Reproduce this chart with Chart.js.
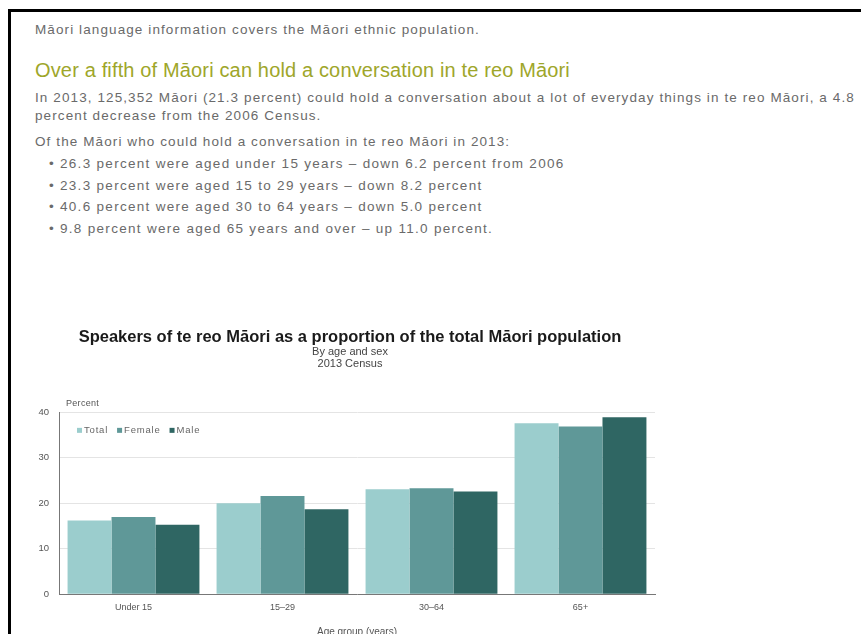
<!DOCTYPE html>
<html>
<head>
<meta charset="utf-8">
<script src="https://cdn.jsdelivr.net/npm/chart.js@4.4.0/dist/chart.umd.min.js"></script>
<style>
  html, body { margin: 0; padding: 0; background: #fff; overflow: hidden; }
  body { width: 861px; height: 634px; position: relative; font-family: "Liberation Sans", Arial, sans-serif; color: #6a6a6a; }
  .frame { position: absolute; left: 8px; top: 9px; width: 900px; height: 700px; border-left: 3px solid #000; border-top: 3px solid #000; }
  .t { position: absolute; left: 35px; white-space: nowrap; font-size: 13.5px; line-height: 16px; letter-spacing: 1.1px; }
  .h { position: absolute; left: 35px; white-space: nowrap; font-size: 20px; color: #9ea62a; line-height: 22px; letter-spacing: 0.15px; }
  .b { position: absolute; left: 49px; white-space: nowrap; font-size: 13.5px; line-height: 16px; letter-spacing: 1.3px; }
  .b::before { content: "\2022"; position: absolute; left: 0; }
  .b span { margin-left: 11px; }
  #wrap { position: absolute; left: 20px; top: 322px; width: 680px; height: 320px; }
  .pct { position: absolute; left: 66px; top: 398px; font-size: 9px; color: #555; letter-spacing: 0.3px; }
</style>
</head>
<body>
<div class="frame"></div>
<div class="t" style="top:22px">Māori language information covers the Māori ethnic population.</div>
<div class="h" style="top:59px">Over a fifth of Māori can hold a conversation in te reo Māori</div>
<div class="t" style="top:90px">In 2013, 125,352 Māori (21.3 percent) could hold a conversation about a lot of everyday things in te reo Māori, a 4.8</div>
<div class="t" style="top:108px">percent decrease from the 2006 Census.</div>
<div class="t" style="top:134px">Of the Māori who could hold a conversation in te reo Māori in 2013:</div>
<div class="b" style="top:156px"><span>26.3 percent were aged under 15 years – down 6.2 percent from 2006</span></div>
<div class="b" style="top:178px"><span>23.3 percent were aged 15 to 29 years – down 8.2 percent</span></div>
<div class="b" style="top:199px"><span>40.6 percent were aged 30 to 64 years – down 5.0 percent</span></div>
<div class="b" style="top:221px"><span>9.8 percent were aged 65 years and over – up 11.0 percent.</span></div>

<div id="wrap"><canvas id="myChart"></canvas></div>
<div class="pct">Percent</div>

<script>
let ageGroups = ['Under 15', '15–29', '30–64', '65+'];
let totalValues = [16.2, 20.0, 23.1, 37.6];
let femaleValues = [17.0, 21.6, 23.3, 36.9];
let maleValues = [15.3, 18.7, 22.6, 38.9];
let yTicks = [0, 10, 20, 30, 40];
let colorHex = ['#9bcdcd', '#5f9898', '#2f6663'];

// small legend drawn inside the plot, top left
let insideLegend = {
  id: 'insideLegend',
  afterDraw(chart) {
    let c = chart.ctx;
    let area = chart.chartArea;
    let x = area.left + 18;
    let y = area.top + 18;
    c.save();
    c.font = '9.5px "Liberation Sans"';
    c.letterSpacing = '0.8px';
    c.textBaseline = 'middle';
    chart.data.datasets.forEach(function (ds) {
      c.fillStyle = ds.backgroundColor;
      c.fillRect(x, y - 2.5, 5, 5);
      c.fillStyle = '#666';
      c.fillText(ds.label, x + 7, y);
      x += 7 + c.measureText(ds.label).width + 9;
    });
    c.restore();
  }
};

let ctx = document.getElementById('myChart').getContext('2d');

let myChart = new Chart(ctx, {
  type: 'bar',
  data: {
    labels: ageGroups,
    datasets: [
      { label: 'Total', data: totalValues, backgroundColor: colorHex[0] },
      { label: 'Female', data: femaleValues, backgroundColor: colorHex[1] },
      { label: 'Male', data: maleValues, backgroundColor: colorHex[2] }
    ]
  },
  options: {
    responsive: true,
    maintainAspectRatio: false,
    animation: false,
    layout: { padding: { left: 5, right: 25, bottom: 0 } },
    datasets: {
      bar: { categoryPercentage: 0.885, barPercentage: 1.0 }
    },
    scales: {
      x: {
        grid: { display: false, drawTicks: false },
        border: { display: true, color: '#777' },
        ticks: { color: '#555', font: { family: 'Liberation Sans', size: 9 }, padding: 8 },
        title: {
          display: true,
          text: 'Age group (years)',
          color: '#555',
          font: { family: 'Liberation Sans', size: 10 },
          padding: { top: 5, bottom: 4 }
        }
      },
      y: {
        min: 0,
        max: 40,
        afterFit: (scale) => { scale.width = 34; },
        afterBuildTicks: (scale) => { scale.ticks = yTicks.map(v => ({ value: v })); },
        grid: { color: '#e4e4e4', drawTicks: false },
        border: { display: true, color: '#777' },
        ticks: { color: '#555', font: { family: 'Liberation Sans', size: 9.5 }, padding: 10 }
      },
      // empty spacer on the right so the title sits where the original has it
      spacer: {
        position: 'right',
        min: 0,
        max: 40,
        afterFit: (scale) => { scale.width = 20; },
        grid: { display: false },
        border: { display: false },
        ticks: { display: false }
      }
    },
    plugins: {
      title: {
        display: true,
        text: 'Speakers of te reo Māori as a proportion of the total Māori population',
        color: '#1a1a1a',
        font: { family: 'Liberation Sans', size: 16.5, weight: 'bold', lineHeight: 1.1 },
        padding: { top: 6, bottom: 0 }
      },
      subtitle: {
        display: true,
        text: ['By age and sex', '2013 Census'],
        color: '#444',
        font: { family: 'Liberation Sans', size: 11, lineHeight: 1.1 },
        padding: { top: 0, bottom: 42 }
      },
      legend: { display: false },
      tooltip: { enabled: false }
    }
  },
  plugins: [insideLegend]
})
</script>
</body>
</html>
